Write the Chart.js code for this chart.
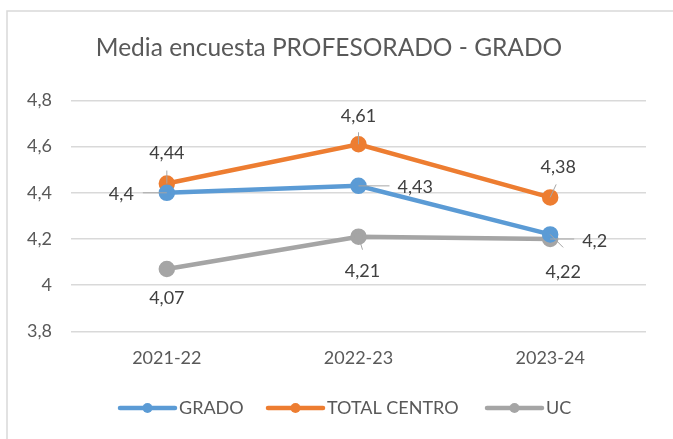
<!DOCTYPE html>
<html><head><meta charset="utf-8">
<script src="https://cdn.jsdelivr.net/npm/chart.js@4"></script>
<style>html,body{margin:0;padding:0;background:#fff;}#wrap{width:673px;height:439px;position:relative;}</style>
</head><body><div id="wrap"><canvas id="c" width="673" height="439"></canvas></div>
<script>
const categories = ['2021-22', '2022-23', '2023-24'];
const grado = [4.4, 4.43, 4.22];
const totalCentro = [4.44, 4.61, 4.38];
const uc = [4.07, 4.21, 4.2];
const yTicks = [3.8, 4, 4.2, 4.4, 4.6, 4.8];
const seriesNames = ['GRADO', 'TOTAL CENTRO', 'UC'];
const titleText = 'Media encuesta PROFESORADO - GRADO';

// label placement (offset from point in px, text alignment, leader-line end)
const labelPlacement = [
  [{dx:-33,dy:1,align:'right',lx:-24,ly:0},{dx:39,dy:1,align:'left',lx:31,ly:0},{dx:13,dy:38,align:'center',lx:13,ly:13}],
  [{dx:0,dy:-30,align:'center',lx:0,ly:-13},{dx:0,dy:-28,align:'center',lx:0,ly:-12},{dx:8,dy:-30,align:'center',lx:6,ly:-13}],
  [{dx:0,dy:29,align:'center',lx:0,ly:0},{dx:4,dy:34,align:'center',lx:4,ly:13},{dx:32,dy:2,align:'left',lx:24,ly:0}]
];
const colors = ['#5b9bd5', '#ed7d31', '#a5a5a5'];
const FONT = 'Lato, "Open Sans", sans-serif';
const fmt = v => String(v).replace('.', ',');

const frame = {
  id: 'frame',
  beforeDraw(chart) {
    const ctx = chart.ctx;
    ctx.save();
    ctx.fillStyle = '#fff';
    ctx.fillRect(0, 0, chart.width, chart.height);
    ctx.strokeStyle = '#d9d9d9';
    ctx.lineWidth = 1.5;
    ctx.beginPath();
    ctx.moveTo(7, chart.height + 5);
    ctx.lineTo(7, 11);
    ctx.lineTo(chart.width + 5, 11);
    ctx.stroke();
    ctx.restore();
  }
};

const dataLabels = {
  id: 'dataLabels',
  afterDatasetsDraw(chart) {
    const ctx = chart.ctx;
    ctx.save();
    ctx.font = '18px ' + FONT;
    ctx.textBaseline = 'middle';
    chart.data.datasets.forEach((ds, i) => {
      const meta = chart.getDatasetMeta(i);
      meta.data.forEach((pt, j) => {
        const p = labelPlacement[i][j];
        if (p.lx !== 0 || p.ly !== 0) {
          ctx.strokeStyle = '#a6a6a6';
          ctx.lineWidth = 1;
          ctx.beginPath();
          ctx.moveTo(pt.x, pt.y);
          ctx.lineTo(pt.x + p.lx, pt.y + p.ly);
          ctx.stroke();
        }
        ctx.fillStyle = '#404040';
        ctx.textAlign = p.align;
        ctx.fillText(fmt(ds.data[j]), pt.x + p.dx, pt.y + p.dy);
      });
    });
    ctx.restore();
  }
};

const customLegend = {
  id: 'customLegend',
  afterDraw(chart) {
    const ctx = chart.ctx;
    ctx.save();
    ctx.font = '18px ' + FONT;
    ctx.textBaseline = 'middle';
    ctx.textAlign = 'left';
    const y = 408;
    const starts = [120, 268, 487];
    chart.data.datasets.forEach((ds, i) => {
      const x0 = starts[i];
      ctx.strokeStyle = ds.borderColor;
      ctx.lineWidth = 4.5;
      ctx.lineCap = 'round';
      ctx.beginPath();
      ctx.moveTo(x0, y);
      ctx.lineTo(x0 + 55, y);
      ctx.stroke();
      ctx.fillStyle = ds.borderColor;
      ctx.beginPath();
      ctx.arc(x0 + 27.5, y, 5, 0, Math.PI * 2);
      ctx.fill();
      ctx.fillStyle = '#595959';
      ctx.fillText(ds.label, x0 + 59, y);
    });
    ctx.restore();
  }
};

const seriesData = [grado, totalCentro, uc];
new Chart(document.getElementById('c'), {
  type: 'line',
  data: {
    labels: categories,
    datasets: seriesData.map((d, i) => ({
      label: seriesNames[i],
      data: d,
      borderColor: colors[i],
      backgroundColor: colors[i],
      borderWidth: 4.5,
      pointRadius: 6,
      pointHoverRadius: 6,
      pointBackgroundColor: colors[i],
      pointBorderColor: colors[i],
      tension: 0
    }))
  },
  options: {
    responsive: false,
    animation: false,
    devicePixelRatio: 1,
    layout: { padding: { left: 12, right: 27, top: 0, bottom: 62 } },
    plugins: {
      legend: { display: false },
      tooltip: { enabled: false },
      title: {
        display: true, text: titleText, color: '#595959',
        font: { family: FONT, size: 24.5, weight: 'normal' },
        padding: { top: 33, bottom: 38 }
      }
    },
    scales: {
      x: {
        offset: true,
        grid: { display: false },
        border: { display: false },
        ticks: { color: '#595959', font: { family: FONT, size: 18 }, padding: 8 }
      },
      y: {
        min: 3.8, max: 4.8,
        afterBuildTicks(axis) { axis.ticks = yTicks.map(v => ({ value: v })); },
        afterFit(axis) { axis.width = 59; },
        grid: { color: '#d9d9d9', lineWidth: 1.5, drawTicks: false },
        border: { display: false },
        ticks: { color: '#595959', font: { family: FONT, size: 18 }, padding: 19, callback: v => fmt(v) }
      }
    }
  },
  plugins: [frame, dataLabels, customLegend]
});
</script></body></html>
